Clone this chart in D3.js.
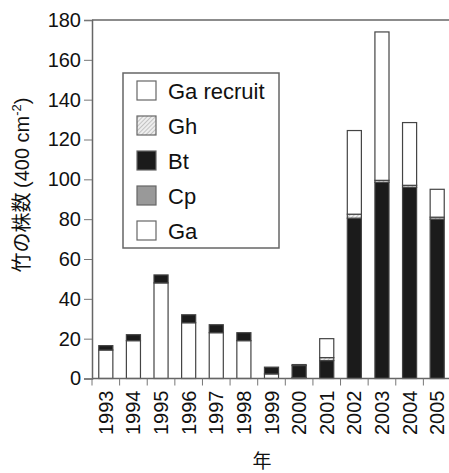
<!DOCTYPE html>
<html>
<head>
<meta charset="utf-8">
<script src="https://cdn.jsdelivr.net/npm/d3@7"></script>
<style>
  html, body { margin: 0; padding: 0; background: #fff; }
  svg { display: block; }
  text { font-family: "Liberation Sans", Arial, Helvetica, sans-serif; fill: #111; }
  .jp { font-family: "Noto Sans CJK JP", "Noto Sans CJK SC", sans-serif; }
</style>
</head>
<body>
<svg id="chart" width="449" height="473"></svg>
<script>
// Bamboo culm counts per 400 cm² plot, by year and category
const years = ["1993","1994","1995","1996","1997","1998","1999","2000","2001","2002","2003","2004","2005"];
const ga        = [14.3, 19, 48, 28, 23, 19, 2.3, 0.5, 0, 0, 0, 0, 0];
const cp        = [0, 0, 0, 0, 0, 0, 0, 0, 0, 0, 0, 0, 0];
const bt        = [2.2, 3, 4, 4, 4, 4, 3.4, 6, 9, 80.5, 98.5, 96, 80];
const gh        = [0, 0, 0, 0, 0, 0, 0, 0.5, 1.5, 2, 1, 1, 1];
const gaRecruit = [0, 0, 0, 0, 0, 0, 0, 0, 9.5, 42, 74.5, 31.5, 14];
const yTicks = [0, 20, 40, 60, 80, 100, 120, 140, 160, 180];

const seriesKeys = ["Ga", "Cp", "Bt", "Gh", "Ga recruit"];
const seriesData = { "Ga": ga, "Cp": cp, "Bt": bt, "Gh": gh, "Ga recruit": gaRecruit };
const legendOrder = ["Ga recruit", "Gh", "Bt", "Cp", "Ga"];

const table = years.map((y, i) => {
  const row = { year: y };
  seriesKeys.forEach(k => row[k] = seriesData[k][i]);
  return row;
});

const svg = d3.select("#chart");
const margin = { left: 92, top: 20, right: -2, bottom: 95 };
const W = 449, H = 473;
const x0 = margin.left, x1 = W - margin.right;
const y0 = H - margin.bottom, y1 = margin.top;

const x = d3.scaleBand().domain(years).range([x0, x1]).paddingInner(0.49).paddingOuter(0.245);
const y = d3.scaleLinear().domain([0, 180]).range([y0 + 0.5, y1]);

// hatch pattern for Gh
const defs = svg.append("defs");
const pat = defs.append("pattern").attr("id", "hatch").attr("patternUnits", "userSpaceOnUse")
  .attr("width", 3).attr("height", 3).attr("patternTransform", "rotate(45)");
pat.append("rect").attr("width", 3).attr("height", 3).attr("fill", "#eee");
pat.append("line").attr("x1", 0).attr("y1", 0).attr("x2", 0).attr("y2", 3)
  .attr("stroke", "#999").attr("stroke-width", 1);

const fills = { "Ga": "#fff", "Cp": "#999", "Bt": "#1b1b1b", "Gh": "url(#hatch)", "Ga recruit": "#fff" };

const stacked = d3.stack().keys(seriesKeys)(table);

// frame top line
svg.append("line").attr("x1", x0).attr("x2", x1).attr("y1", y1).attr("y2", y1)
  .attr("stroke", "#666").attr("stroke-width", 1.5);

// bars
svg.append("g").selectAll("g").data(stacked).join("g")
  .attr("fill", d => fills[d.key])
  .selectAll("rect").data(d => d.filter(s => s[1] - s[0] > 0)).join("rect")
  .attr("x", d => x(d.data.year))
  .attr("width", x.bandwidth())
  .attr("y", d => y(d[1]))
  .attr("height", d => y(d[0]) - y(d[1]))
  .attr("stroke", "#444").attr("stroke-width", 1.2);

// y axis
const yAxis = d3.axisLeft(y).tickValues(yTicks).tickSize(8).tickPadding(3);
const gy = svg.append("g").attr("transform", `translate(${x0},0)`).call(yAxis);
gy.select(".domain").attr("stroke", "#666").attr("stroke-width", 1.5);
gy.selectAll(".tick line").attr("stroke", "#777").attr("stroke-width", 1);
gy.selectAll(".tick text").attr("font-size", 20).attr("fill", "#111")
  .attr("font-family", "'Liberation Sans', Arial, sans-serif");

// x axis: ticks at band boundaries, labels centered in bands
const xAxisY = y0 + 0.5;
svg.append("line").attr("x1", x0).attr("x2", x1).attr("y1", xAxisY).attr("y2", xAxisY)
  .attr("stroke", "#666").attr("stroke-width", 1.5);
const step = x.step();
const bounds = years.map((yr, i) => x(yr) - x.paddingInner() * step / 2);
svg.append("g").selectAll("line").data(bounds).join("line")
  .attr("x1", d => d).attr("x2", d => d).attr("y1", xAxisY).attr("y2", xAxisY + 7)
  .attr("stroke", "#777").attr("stroke-width", 1);
svg.append("g").selectAll("text").data(years).join("text")
  .attr("transform", d => `translate(${x(d) + x.bandwidth() / 2 + 7},${xAxisY + 12}) rotate(-90)`)
  .attr("text-anchor", "end")
  .attr("font-size", 20)
  .text(d => d);

// axis titles
svg.append("text").attr("class", "jp")
  .attr("x", 262).attr("y", 468).attr("text-anchor", "middle").attr("font-size", 19).text("年");

const yt = svg.append("text")
  .attr("transform", "translate(29,185) rotate(-90)")
  .attr("text-anchor", "middle").attr("font-size", 20);
yt.append("tspan").attr("class", "jp").text("竹の株数 ");
yt.append("tspan").text("(400 cm");
yt.append("tspan").attr("font-size", 13).attr("dy", -8).text("-2");
yt.append("tspan").attr("dy", 8).text(")");

// legend
const lg = svg.append("g");
lg.append("rect").attr("x", 123).attr("y", 73).attr("width", 156).attr("height", 175)
  .attr("fill", "#fff").attr("stroke", "#666").attr("stroke-width", 1.5);
legendOrder.forEach((k, i) => {
  const cy = 91 + i * 35;
  lg.append("rect").attr("x", 137).attr("y", cy - 10).attr("width", 19).attr("height", 19)
    .attr("fill", fills[k]).attr("stroke", "#666").attr("stroke-width", 1.2);
  lg.append("text").attr("x", 168).attr("y", cy + 8).attr("font-size", 22).text(k);
});
</script>
</body>
</html>
